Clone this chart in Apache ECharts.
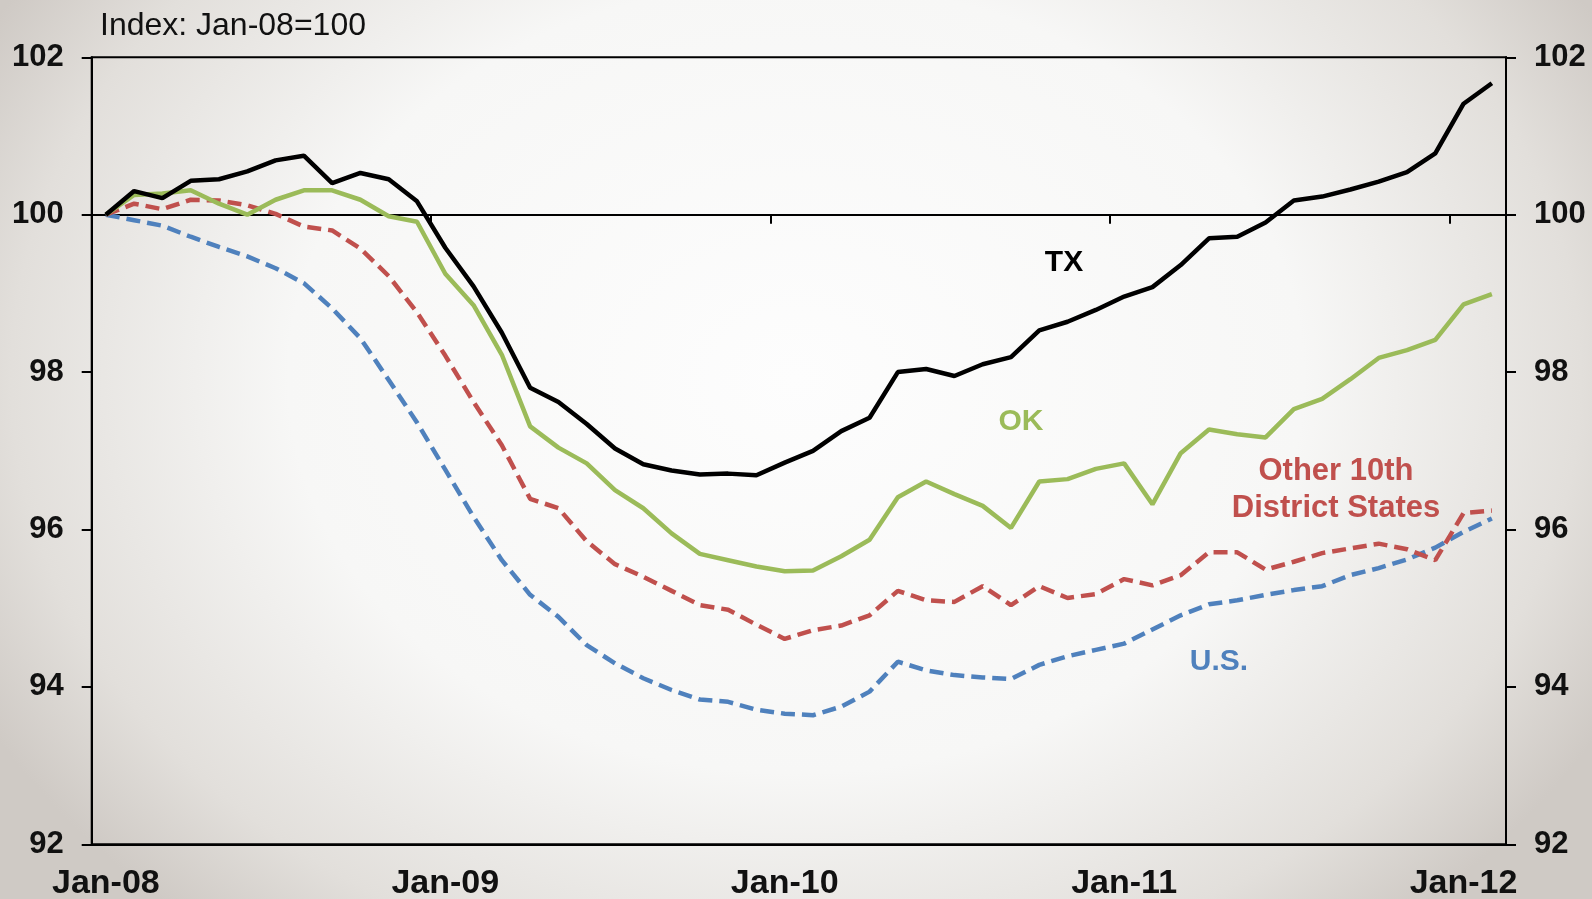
<!DOCTYPE html>
<html>
<head>
<meta charset="utf-8">
<script src="https://cdn.jsdelivr.net/npm/echarts@6/dist/echarts.min.js"></script>
<style>
  html, body { margin: 0; padding: 0; width: 1592px; height: 899px; overflow: hidden; }
  body {
    background: radial-gradient(ellipse 58% 80% at 50% 42%, #fdfdfd 0%, #f7f7f6 55%, #e2dfdb 85%, #cfcac5 100%);
  }
  #chart { width: 1592px; height: 899px; }
</style>
</head>
<body>
<div id="chart"></div>
<script>
// monthly, Jan-08 .. Feb-12
const monthNames = ['Jan', 'Feb', 'Mar', 'Apr', 'May', 'Jun', 'Jul', 'Aug', 'Sep', 'Oct', 'Nov', 'Dec'];
const years = ['08', '09', '10', '11', '12'];
const categories = [];
years.forEach(y => monthNames.forEach(m => { if (categories.length < 50) categories.push(m + '-' + y); }));

const yTicks = [92, 94, 96, 98, 100, 102];

const txValues = [100, 100.30, 100.21, 100.43, 100.45, 100.55, 100.69, 100.75, 100.40, 100.53,
  100.45, 100.17, 99.58, 99.09, 98.50, 97.80, 97.62, 97.34, 97.03, 96.83,
  96.75, 96.70, 96.71, 96.69, 96.85, 97.00, 97.25, 97.42, 98.00, 98.04,
  97.95, 98.10, 98.19, 98.53, 98.64, 98.79, 98.96, 99.08, 99.36, 99.70,
  99.72, 99.90, 100.18, 100.23, 100.32, 100.42, 100.54, 100.78, 101.41, 101.67];

const okValues = [100, 100.25, 100.27, 100.31, 100.14, 100.00, 100.19, 100.31, 100.31, 100.19,
  99.98, 99.91, 99.25, 98.85, 98.22, 97.31, 97.04, 96.84, 96.50, 96.27,
  95.95, 95.69, 95.61, 95.53, 95.47, 95.48, 95.66, 95.87, 96.41, 96.61,
  96.45, 96.30, 96.02, 96.61, 96.64, 96.77, 96.84, 96.32, 96.97, 97.27,
  97.21, 97.17, 97.53, 97.66, 97.91, 98.18, 98.28, 98.41, 98.86, 98.99];

const otherValues = [100, 100.14, 100.07, 100.19, 100.18, 100.12, 100.01, 99.85, 99.80, 99.57,
  99.22, 98.76, 98.21, 97.62, 97.07, 96.39, 96.27, 95.85, 95.56, 95.40,
  95.22, 95.04, 94.98, 94.79, 94.61, 94.72, 94.78, 94.91, 95.22, 95.10,
  95.08, 95.28, 95.04, 95.28, 95.13, 95.18, 95.37, 95.29, 95.42, 95.71,
  95.71, 95.49, 95.59, 95.70, 95.76, 95.82, 95.75, 95.61, 96.21, 96.24];

const usValues = [100, 99.93, 99.86, 99.72, 99.59, 99.47, 99.32, 99.13, 98.81, 98.43,
  97.90, 97.36, 96.76, 96.16, 95.61, 95.17, 94.89, 94.53, 94.30, 94.11,
  93.96, 93.84, 93.81, 93.71, 93.66, 93.64, 93.75, 93.94, 94.32, 94.21,
  94.15, 94.12, 94.10, 94.28, 94.39, 94.47, 94.55, 94.73, 94.91, 95.05,
  95.10, 95.17, 95.23, 95.28, 95.42, 95.51, 95.62, 95.77, 95.97, 96.14];

const chart = echarts.init(document.getElementById('chart'));

const yLabel = {
  margin: 28,
  color: '#111',
  fontFamily: '"Liberation Sans", Arial, sans-serif',
  fontWeight: 'bold',
  fontSize: 31
};

function valueAxis(position) {
  return {
    type: 'value',
    position: position,
    min: yTicks[0],
    max: yTicks[yTicks.length - 1],
    interval: 2,
    axisLine: { show: true, lineStyle: { color: '#000', width: 2 } },
    axisTick: { show: true, length: 10, lineStyle: { color: '#000', width: 2 } },
    axisLabel: yLabel,
    splitLine: { show: false }
  };
}

function lineSeries(name, data, color, dashed) {
  return {
    name: name,
    type: 'line',
    data: data,
    symbol: 'none',
    smooth: false,
    lineStyle: { color: color, width: 4.5, type: dashed ? [14, 7] : 'solid' },
    itemStyle: { color: color }
  };
}

const labelFont = '"Liberation Sans", Arial, sans-serif';

const option = {
  backgroundColor: 'transparent',
  animation: false,
  grid: {
    left: 91.7,
    right: 86,
    top: 57.3,
    bottom: 54.7,
    show: true,
    borderColor: '#000',
    borderWidth: 2,
    outerBoundsMode: 'none'
  },
  xAxis: [
    {
      type: 'category',
      data: categories,
      boundaryGap: true,
      position: 'bottom',
      axisLine: { show: true, lineStyle: { color: '#000', width: 2 } },
      axisTick: { show: false },
      axisLabel: {
        interval: 11,
        margin: 22,
        color: '#111',
        fontFamily: '"Liberation Sans Narrow", "Liberation Sans", Arial, sans-serif',
        fontWeight: 'bold',
        fontSize: 34
      },
      splitLine: { show: false }
    },
    {
      // horizontal axis crossing at 100
      type: 'category',
      data: categories,
      boundaryGap: true,
      position: 'bottom',
      offset: -629.6,
      axisLine: { show: true, lineStyle: { color: '#000', width: 2 } },
      axisTick: { show: true, interval: 11, length: 9, lineStyle: { color: '#000', width: 2 } },
      axisLabel: { show: false },
      splitLine: { show: false }
    }
  ],
  yAxis: [valueAxis('left'), valueAxis('right')],
  series: [
    lineSeries('U.S.', usValues, '#4f81bd', true),
    lineSeries('Other 10th District States', otherValues, '#c0504d', true),
    lineSeries('OK', okValues, '#9bbb59', false),
    lineSeries('TX', txValues, '#000000', false)
  ],
  graphic: [
    {
      type: 'text', left: 100, top: 10,
      style: { text: 'Index: Jan-08=100', font: '32px ' + labelFont, fill: '#111' }
    },
    {
      type: 'text', x: 1064, y: 263,
      style: { text: 'TX', font: 'bold 30px ' + labelFont, fill: '#000', align: 'center', verticalAlign: 'middle' }
    },
    {
      type: 'text', x: 1021, y: 422,
      style: { text: 'OK', font: 'bold 30px ' + labelFont, fill: '#9bbb59', align: 'center', verticalAlign: 'middle' }
    },
    {
      type: 'text', x: 1336, y: 490,
      style: {
        text: 'Other 10th\nDistrict States', font: 'bold 31px ' + labelFont, fill: '#c0504d',
        align: 'center', verticalAlign: 'middle', lineHeight: 36.5
      }
    },
    {
      type: 'text', x: 1219, y: 662,
      style: { text: 'U.S.', font: 'bold 30px ' + labelFont, fill: '#4f81bd', align: 'center', verticalAlign: 'middle' }
    }
  ]
};

chart.setOption(option);
</script>
</body>
</html>
